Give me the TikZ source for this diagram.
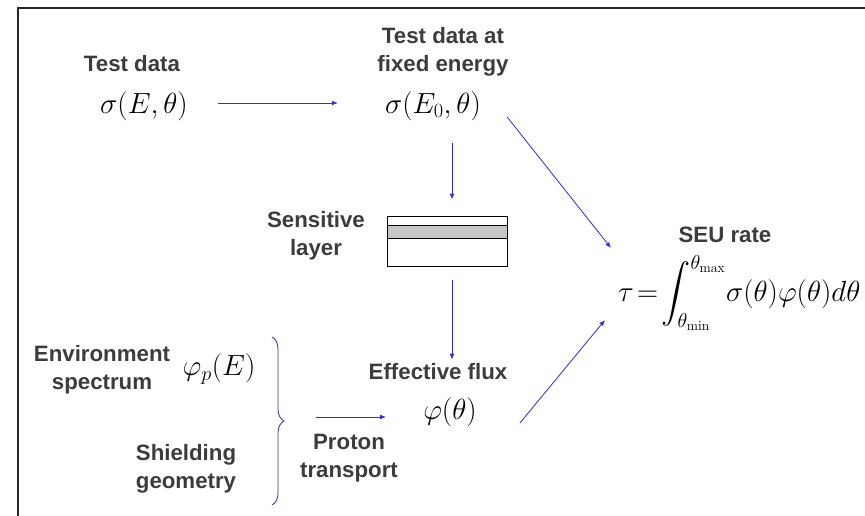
\documentclass[tikz,border=0pt]{standalone}
\usepackage{amsmath}
\usepackage{exscale}
\usepackage{fontspec}
\usepackage{tikz}
\usetikzlibrary{arrows.meta}
\usetikzlibrary{decorations.pathreplacing}
\newfontfamily\labelfont{Liberation Sans}
\definecolor{txtgrey}{HTML}{3C3C3C}
\definecolor{flowblue}{HTML}{2E2ED6}
\definecolor{bracenavy}{HTML}{34349A}
\tikzset{
  lbl/.style={font=\labelfont\bfseries\fontsize{19}{24}\selectfont, text=txtgrey, align=center, inner sep=0pt},
  mth/.style={font=\fontsize{26}{30}\selectfont, inner sep=0pt},
  flow/.style={-{Latex[length=5pt,width=4pt]}, draw=flowblue, line width=0.7pt},
}

\begin{document}
\begin{tikzpicture}[x=0.03cm,y=-0.03cm]
\useasboundingbox (0,0) rectangle (865,516);
\draw [line width=1.6pt, black!85] (18,516) -- (18,8) -- (865,8);
%%%%%%%%% test data
\node [lbl] (tdlbl) at (132,64) {Test data};
\node [mth] (sE) at (144,106) {$\sigma(E,\theta)$};
\node [lbl] (tdfix) at (443,52) {Test data at\\fixed energy};
\node [mth] (sE0) at (433,106) {$\sigma(E_0,\theta)$};
%%%%%%%%% sensitive layer
\node [lbl] (senslbl) at (316,236) {Sensitive\\layer};
\node [draw, line width=0.8pt, minimum width=3.6cm, minimum height=1.5cm, inner sep=0pt] (layer) at (447,241) {};
\draw [line width=0.8pt, fill=gray!45] (387,225) rectangle (507,238);
%%%%%%%%% rate
\node [lbl] (seulbl) at (725,235) {SEU rate};
\node [mth, font=\fontsize{23.5}{28}\selectfont, anchor=west] (rate) at (618,293)
  {$\displaystyle\tau\!=\!\int_{\theta_{\mathrm{min}}}^{\theta_{\mathrm{max}}}\!\sigma(\theta)\varphi(\theta)d\theta$};
%%%%%%%%% flux
\node [lbl] (efflbl) at (438,372) {Effective flux};
\node [mth] (phi) at (450,412) {$\varphi(\theta)$};
\node [lbl] (envlbl) at (102,370) {Environment\\spectrum};
\node [mth] (phip) at (219,369) {$\varphi_p(E)$};
\node [lbl] (shldlbl) at (186,469) {Shielding\\geometry};
\node [lbl] (protlbl) at (349,458) {Proton\\transport};
\draw [bracenavy, line width=0.7pt, decorate, decoration={brace, amplitude=0.36cm}] (272,337) -- (272,505);
\coordinate (bracetip) at (284,420);
%%%%%%%%% arrows
\draw [flow] ([shift={(30,-3)}]sE.east) -- ([shift={(-47,-3)}]sE0.west);
\draw [flow] ([shift={(19,22)}]sE0.south) -- ([shift={(5,-16)}]layer.north);
\draw [flow] ([shift={(5,14)}]layer.south) -- ([shift={(14,-4)}]efflbl.north);
\draw [flow] ([shift={(26,11)}]sE0.east) -- ([shift={(-7,-45)}]rate.west);
\draw [flow] ([shift={(43,11)}]phi.east) -- ([shift={(-13,27)}]rate.west);
\draw [flow] ([shift={(32,-3)}]bracetip) -- ([shift={(-37,5)}]phi.west);
\end{tikzpicture}
\end{document}
